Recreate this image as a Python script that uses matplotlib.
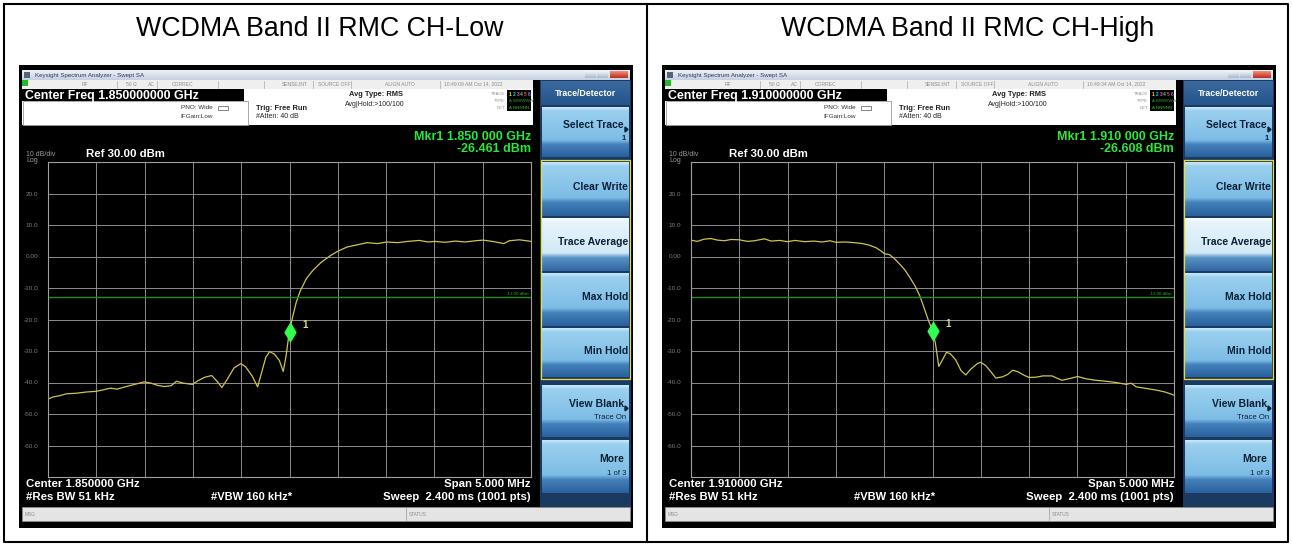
import numpy as np
import matplotlib.pyplot as plt
from matplotlib.patches import Rectangle, Polygon
from matplotlib.colors import LinearSegmentedColormap

plt.rcParams['font.family'] = ['Liberation Sans', 'DejaVu Sans']

W, H = 1292, 545

# ---- chart data ----
titles = ['WCDMA Band II RMC CH-Low', 'WCDMA Band II RMC CH-High']
center_ghz = ['1.850000000', '1.910000000']
center_short = ['1.850000', '1.910000']
mkr_freq = ['1.850 000 GHz', '1.910 000 GHz']
mkr_level = ['-26.461 dBm', '-26.608 dBm']
clock = ['10:49:09 AM Oct 14, 2022', '10:49:34 AM Oct 14, 2022']
mkr_plot_dbm = [-24.0, -23.6]
ref_dbm = 30.0
div_db = 10
n_div = 10
span_mhz = 5.0
limit_dbm = -13.0
ylabels = ['20.0', '10.0', '0.00', '-10.0', '-20.0', '-30.0', '-40.0', '-50.0', '-60.0']

# trace: offset from centre (MHz) and level (dBm)
low_off = [-2.50, -2.45, -2.38, -2.31, -2.205, -2.10, -2.00, -1.925, -1.855, -1.785,
           -1.68, -1.59, -1.505, -1.435, -1.365, -1.295, -1.225, -1.17, -1.10, -1.005,
           -0.945, -0.875, -0.805, -0.75, -0.70, -0.645, -0.575, -0.505, -0.455, -0.385,
           -0.33, -0.295, -0.245, -0.205, -0.155, -0.105, -0.065, -0.035, -0.005, 0.03,
           0.07, 0.11, 0.175, 0.245, 0.33, 0.42, 0.495, 0.595, 0.70, 0.805,
           0.91, 1.005, 1.12, 1.225, 1.345, 1.435, 1.505, 1.61, 1.715, 1.82,
           1.925, 2.005, 2.10, 2.22, 2.275, 2.38, 2.50]
low_dbm = [-45.3, -44.6, -44.2, -43.6, -43.4, -43.0, -42.8, -42.3, -41.8, -42.1,
           -41.2, -40.5, -39.8, -40.2, -40.9, -41.3, -41.0, -39.6, -40.2, -40.6,
           -39.4, -38.3, -37.8, -39.6, -41.6, -39.0, -35.4, -34.0, -35.0, -38.0,
           -41.4, -37.5, -32.0, -30.2, -31.0, -33.0, -36.5, -31.5, -24.5, -19.5,
           -14.5, -11.0, -7.0, -4.3, -1.8, 0.2, 1.6, 3.0, 3.7, 4.4,
           4.1, 4.6, 4.4, 4.8, 5.1, 4.6, 4.8, 4.5, 4.9, 4.6,
           5.0, 5.2, 4.8, 4.1, 5.0, 5.3, 4.8]

high_off = [-2.5, -2.435, -2.365, -2.295, -2.225, -2.155, -2.085, -2.0, -1.915, -1.845,
            -1.74, -1.67, -1.58, -1.5, -1.425, -1.32, -1.23, -1.145, -1.06, -1.0,
            -0.9, -0.81, -0.725, -0.655, -0.585, -0.53, -0.5, -0.445, -0.39, -0.34,
            -0.285, -0.235, -0.18, -0.13, -0.085, -0.04, 0.0, 0.03, 0.065, 0.1,
            0.145, 0.185, 0.24, 0.295, 0.345, 0.395, 0.465, 0.5, 0.55, 0.605,
            0.655, 0.725, 0.78, 0.83, 0.885, 0.955, 1.0, 1.075, 1.145, 1.235,
            1.34, 1.425, 1.505, 1.585, 1.69, 1.795, 1.9, 2.005, 2.055, 2.11,
            2.215, 2.315, 2.405, 2.5]
high_dbm = [5.2, 4.8, 5.5, 5.7, 5.2, 5.0, 5.4, 5.3, 4.8, 5.0,
            5.6, 4.9, 5.1, 4.7, 5.1, 4.7, 4.9, 4.6, 5.0, 4.5,
            4.6, 4.4, 4.1, 3.6, 2.8, 1.7, 0.9, 0.6, -0.8, -2.4,
            -4.3, -6.6, -9.4, -12.6, -16.5, -20.5, -23.5, -27.5, -34.9, -33.0,
            -30.4, -30.9, -32.8, -36.2, -37.6, -35.8, -34.0, -33.6, -34.6, -36.6,
            -38.6, -38.2, -37.4, -36.1, -36.6, -37.8, -38.4, -38.3, -37.9, -37.9,
            -39.3, -38.7, -38.1, -38.8, -39.3, -39.6, -40.0, -40.6, -40.2, -41.4,
            -41.9, -42.4, -43.0, -44.0]

traces = [(low_off, low_dbm), (high_off, high_dbm)]

# softkey label, second line, arrow, highlighted, top, bottom (px inside screen)
softkeys = [('Select Trace', '1', True, False, 42, 92),
            ('Clear Write', '', False, False, 97, 151),
            ('Trace Average', '', False, True, 153, 206),
            ('Max Hold', '', False, False, 208, 261),
            ('Min Hold', '', False, False, 263, 312),
            ('View Blank', 'Trace On', True, False, 320, 372),
            ('More', '1 of 3', False, False, 375, 428)]

fig = plt.figure(figsize=(W / 100, H / 100), dpi=100)
bg = fig.add_axes([0, 0, 1, 1])
bg.axis('off')


def px_axes(x, y, w, h):
    return fig.add_axes([x / W, 1 - (y + h) / H, w / W, h / H])


def vgrad(x, y, w, h, stops, z=2):
    cmap = LinearSegmentedColormap.from_list('g', stops)
    bg.imshow(np.linspace(0, 1, 80).reshape(-1, 1), cmap=cmap, aspect='auto',
              extent=(x, x + w, y + h, y), origin='upper', interpolation='bilinear', zorder=z)


btn_norm = [(0, '#c8e8fa'), (0.07, '#9ad0ee'), (0.66, '#7dbce6'), (0.75, '#4482bc'), (1, '#2a609c')]
btn_light = [(0, '#f6fcff'), (0.07, '#e6f4fc'), (0.66, '#d2e9f7'), (0.75, '#5a94c6'), (1, '#2f68a4')]


def draw_screen(sx, sy, k):
    def R(x, y, w, h, fc, ec='none', lw=0, z=2):
        bg.add_patch(Rectangle((sx + x, sy + y), w, h, facecolor=fc, edgecolor=ec, linewidth=lw, zorder=z))

    def T(x, y, s, size, color, weight='normal', ha='left', va='center', z=5):
        bg.text(sx + x, sy + y, s, fontsize=size, color=color, fontweight=weight,
                ha=ha, va=va, zorder=z)

    def L(xs, ys, color, lw=0.6, z=3):
        bg.plot([sx + v for v in xs], [sy + v for v in ys], color=color, lw=lw, zorder=z)

    R(0, 0, 614, 463, 'black', z=1)

    # window title bar
    vgrad(sx + 3, sy + 5, 608, 10, ['#eef2f8', '#c4d0e0'])
    R(5, 7, 6, 6, '#54657a', z=3)
    T(16, 10, 'Keysight Spectrum Analyzer - Swept SA', 4.4, '#2a3a55')
    vgrad(sx + 566, sy + 6.5, 11, 7, ['#f4f7fb', '#a9b9cd'], z=3)
    vgrad(sx + 578, sy + 6.5, 11, 7, ['#f4f7fb', '#a9b9cd'], z=3)
    vgrad(sx + 591, sy + 6.5, 18, 7, ['#f39080', '#bf2a18'], z=3)

    # status line
    R(3, 15, 511, 8.5, '#efefef')
    R(3, 15, 6, 6, '#22bb22', z=3)
    for xs in [98, 138, 199, 245, 294, 332, 421]:
        L([xs, xs], [16, 22.5], '#b4b4b4')
    for x, s in [(66, 'RF'), (112, '50 \u03a9'), (132, 'AC')]:
        T(x, 19.2, s, 3.6, '#8c8c8c', ha='center')
    for x, s in [(153, 'CORREC'), (263, 'SENSE:INT'), (299, 'SOURCE OFF'), (366, 'ALIGN AUTO'),
                 (425, clock[k])]:
        T(x, 19.2, s, 3.6, '#8c8c8c')

    # setup area
    R(3, 23.5, 511, 36.5, 'white')
    R(3, 23.5, 222, 12.5, 'black', z=3)
    T(6, 33.6, 'Center Freq ' + center_ghz[k] + ' GHz', 8.9, 'white', 'bold', va='baseline')
    R(3.5, 36, 225, 23.5, 'white', ec='#9a9a9a', lw=0.6, z=3)
    T(194, 42.5, 'PNO: Wide', 4.6, '#333333', ha='right')
    R(199, 40.5, 10, 4, 'none', ec='#555555', lw=0.5, z=4)
    T(194, 52, 'IFGain:Low', 4.6, '#333333', ha='right')
    T(237, 43, 'Trig: Free Run', 5.4, '#222222', 'bold')
    T(237, 52, '#Atten: 40 dB', 5.0, '#222222')
    T(330, 29.5, 'Avg Type: RMS', 5.4, '#222222', 'bold')
    T(326, 39, 'Avg|Hold:>100/100', 5.0, '#222222')
    R(488, 25, 24, 21, 'black', z=3)
    for y, s in [(29, 'TRACE'), (36, 'TYPE'), (43, 'DET')]:
        T(486, y, s, 3.0, '#8c8c8c', ha='right')
    for i, c in enumerate(['#f0e000', '#30c0e8', '#e050e0', '#50d050', '#e04848', '#7070ff']):
        T(490 + i * 3.7, 29, str(i + 1), 3.6, c, 'bold')
    T(490, 36, 'A WWWWW', 3.2, '#30a030')
    T(490, 43, 'A NNNNN', 3.2, '#30c030')

    # marker readout, reference
    T(512, 72, 'Mkr1 ' + mkr_freq[k], 9.0, '#28e83a', 'bold', ha='right')
    T(512, 84, mkr_level[k], 9.0, '#28e83a', 'bold', ha='right')
    T(7, 89, '10 dB/div', 5.0, '#9a9a9a')
    T(7, 95, 'Log', 5.0, '#9a9a9a')
    T(67, 89, 'Ref 30.00 dBm', 8.2, 'white', 'bold')

    # graticule and trace
    ax = px_axes(sx + 29, sy + 97, 483, 315)
    ax.set_facecolor('black')
    ax.set_xlim(-span_mhz / 2, span_mhz / 2)
    ax.set_ylim(ref_dbm - div_db * n_div, ref_dbm)
    ax.set_xticks(np.linspace(-span_mhz / 2, span_mhz / 2, n_div + 1))
    ax.set_yticks(np.arange(ref_dbm - div_db * n_div, ref_dbm + 1, div_db))
    ax.set_yticklabels([''] + ylabels[::-1] + [''])
    ax.grid(True, color='#8c8c8c', lw=0.7)
    ax.set_axisbelow(True)
    ax.tick_params(length=0, labelbottom=False, labelsize=4.6, labelcolor='#7e7e7e', pad=7)
    for sp in ax.spines.values():
        sp.set_color('#a0a0a0')
        sp.set_linewidth(0.8)
    off, dbm = traces[k]
    ax.plot(off, dbm, color='#d0c44a', lw=0.9)
    ax.axhline(limit_dbm, color='#1e8e1e', lw=1.0)
    ax.text(span_mhz / 2 - 0.03, limit_dbm + 0.6, '-13.00 dBm', ha='right', va='bottom',
            fontsize=3.2, color='#2bb02b')
    diamond = [(0, 1), (0.6, 0), (0, -1), (-0.6, 0), (0, 1)]
    ax.plot([0], [mkr_plot_dbm[k]], marker=diamond, markersize=13, color='#30ff50', lw=0)
    ax.text(0.13, mkr_plot_dbm[k] + 2.2, '1', fontsize=7, color='#e0d890', fontweight='bold',
            ha='left', va='center')

    # bottom annotations
    T(7, 419, 'Center ' + center_short[k] + ' GHz', 8.2, 'white', 'bold')
    T(7, 432, '#Res BW 51 kHz', 8.2, 'white', 'bold')
    T(192, 432, '#VBW 160 kHz*', 8.0, 'white', 'bold')
    T(512, 419, 'Span 5.000 MHz', 8.2, 'white', 'bold', ha='right')
    T(512, 432, 'Sweep  2.400 ms (1001 pts)', 8.2, 'white', 'bold', ha='right')

    R(3, 442, 608, 14, '#e4e4e4', ec='#8c8c8c', lw=0.6)
    T(6, 449, 'MSG', 3.4, '#8c8c8c')
    L([387, 387], [443, 455], '#a8a8a8')
    T(390, 449, 'STATUS', 3.4, '#8c8c8c')

    # softkey panel
    px0, pw = 521, 91
    R(px0, 15, pw, 427, '#1b3a62')
    vgrad(sx + px0 + 1, sy + 16, pw - 2, 24, ['#3a6aa0', '#24548a'], z=3)
    T(px0 + pw / 2, 28, 'Trace/Detector', 6.3, 'white', 'bold', ha='center')
    for label, sub, arrow, light, y0, y1 in softkeys:
        vgrad(sx + px0 + 2, sy + y0, pw - 4, y1 - y0, btn_light if light else btn_norm, z=3)
        hgt = y1 - y0
        if sub:
            T(px0 + pw - 7, y0 + hgt * 0.36, label, 7.5, '#0c2036', 'bold', ha='right')
            T(px0 + pw - 5, y0 + hgt * 0.63, sub, 5.6, '#0c2036', 'bold' if sub == '1' else 'normal',
              ha='right')
        else:
            T(px0 + pw - 3, y0 + hgt * 0.46, label, 7.5, '#0c2036', 'bold', ha='right')
        if arrow:
            ya = sy + y0 + hgt * 0.45
            xa = sx + px0 + pw - 3
            bg.add_patch(Polygon([(xa - 3, ya - 2.5), (xa, ya), (xa - 3, ya + 2.5)],
                                 closed=True, color='#0c2036', zorder=6))
    R(px0 + 1, 95, pw - 2, 218.5, 'none', ec='#e8dc3a', lw=0.9, z=6)


# table frame and titles
bg.plot([4, 1288, 1288, 4, 4], [4, 4, 542, 542, 4], color='black', lw=1.5, zorder=1)
bg.plot([647, 647], [4, 542], color='black', lw=1.5, zorder=1)
bg.text(320, 29, titles[0], fontsize=19.3, ha='center', va='center', color='black')
bg.text(968, 29, titles[1], fontsize=19.3, ha='center', va='center', color='black')

draw_screen(19, 65, 0)
draw_screen(662, 65, 1)

bg.set_xlim(0, W)
bg.set_ylim(H, 0)
fig.savefig('out.png', dpi=100)
